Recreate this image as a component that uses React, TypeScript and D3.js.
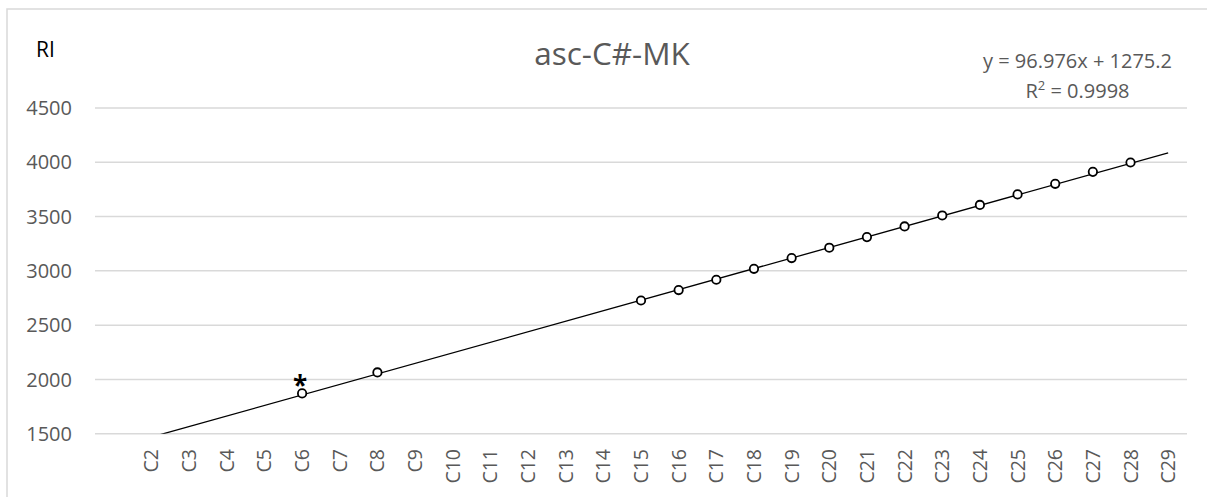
import React from "react";
import * as d3 from "d3";

// Category axis: carbon numbers C1..C29 (first slot has no label)
const categories: string[] = [
  "", "C2", "C3", "C4", "C5", "C6", "C7", "C8", "C9", "C10",
  "C11", "C12", "C13", "C14", "C15", "C16", "C17", "C18", "C19", "C20",
  "C21", "C22", "C23", "C24", "C25", "C26", "C27", "C28", "C29",
];

// Measured retention indices
const pointCategories: string[] = [
  "C6", "C8", "C15", "C16", "C17", "C18", "C19", "C20",
  "C21", "C22", "C23", "C24", "C25", "C26", "C27", "C28",
];
const riValues: number[] = [
  1871, 2064, 2727, 2823, 2918, 3019, 3118, 3213,
  3311, 3409, 3510, 3607, 3704, 3802, 3912, 3998,
];

// Flagged points (asterisk)
const flagged: string[] = ["C6"];

// Linear trendline coefficients
const slope = 96.976;
const intercept = 1275.2;
const rSquared = 0.9998;

const yTicks: number[] = [1500, 2000, 2500, 3000, 3500, 4000, 4500];

const W = 1207;
const H = 497;
const plot = { left: 95, right: 1187, top: 108, bottom: 433.7 };

const grey = "#595959";
const gridColor = "#d9d9d9";
const font = "'Open Sans', 'Liberation Sans', Arial, sans-serif";

export default function App() {
  const x = d3
    .scaleBand<string>()
    .domain(categories)
    .range([plot.left, plot.right])
    .padding(0);
  const cx = (c: string) => (x(c) as number) + x.bandwidth() / 2;

  const y = d3.scaleLinear().domain([1500, 4500]).range([plot.bottom, plot.top]);

  // trendline in category-index space (1-based)
  const xi = d3
    .scaleLinear()
    .domain([1, categories.length])
    .range([cx(categories[0]), cx(categories[categories.length - 1])]);
  const trendPts: [number, number][] = [1, categories.length].map((i) => [
    xi(i),
    y(slope * i + intercept),
  ]);
  const trendPath = d3.line()(trendPts) as string;

  return (
    <svg
      width={W}
      height={H}
      style={{ position: "absolute", left: 0, top: 0, background: "#fff" }}
      fontFamily={font}
    >
      <defs>
        <clipPath id="plotClip">
          <rect
            x={plot.left}
            y={plot.top - 20}
            width={plot.right - plot.left}
            height={plot.bottom - plot.top + 20}
          />
        </clipPath>
      </defs>
      <rect x={0} y={0} width={W} height={H} fill="#fff" />
      {/* chart frame */}
      <rect
        x={7}
        y={9}
        width={W + 20}
        height={H + 20}
        fill="none"
        stroke={gridColor}
        strokeWidth={1.5}
      />

      {/* gridlines and y labels */}
      {yTicks.map((t) => (
        <g key={t}>
          <line
            x1={plot.left}
            x2={plot.right}
            y1={y(t)}
            y2={y(t)}
            stroke={gridColor}
            strokeWidth={1.5}
          />
          <text
            x={72}
            y={y(t)}
            dy="0.36em"
            textAnchor="end"
            fontSize={20}
            fill={grey}
          >
            {t}
          </text>
        </g>
      ))}

      {/* x labels, rotated */}
      {categories.map((c) =>
        c ? (
          <text
            key={c}
            transform={`translate(${cx(c) + 7},449) rotate(-90)`}
            textAnchor="end"
            fontSize={19.5}
            fill={grey}
          >
            {c}
          </text>
        ) : null
      )}

      {/* trendline */}
      <path
        d={trendPath}
        stroke="#000"
        strokeWidth={1.3}
        fill="none"
        clipPath="url(#plotClip)"
      />

      {/* data points */}
      {pointCategories.map((c, i) => (
        <circle
          key={c}
          cx={cx(c)}
          cy={y(riValues[i])}
          r={4.2}
          fill="#fff"
          stroke="#000"
          strokeWidth={1.8}
        />
      ))}

      {flagged.map((c) => {
        const i = pointCategories.indexOf(c);
        return (
          <text
            key={c}
            x={cx(c) - 2}
            y={y(riValues[i]) + 2}
            textAnchor="middle"
            fontSize={26}
            fontWeight="bold"
            fill="#000"
          >
            *
          </text>
        );
      })}

      {/* titles */}
      <text x={36} y={57} fontSize={21} fill="#000">
        RI
      </text>
      <text x={612} y={65} textAnchor="middle" fontSize={31.5} fill={grey}>
        asc-C#-MK
      </text>
      <text x={1077.5} y={68} textAnchor="middle" fontSize={20} fill={grey}>
        {`y = ${slope}x + ${intercept}`}
      </text>
      <text x={1077.5} y={98} textAnchor="middle" fontSize={20} fill={grey}>
        R
        <tspan dy={-8} fontSize={13}>
          2
        </tspan>
        <tspan dy={8}>{` = ${rSquared}`}</tspan>
      </text>
    </svg>
  );
}
